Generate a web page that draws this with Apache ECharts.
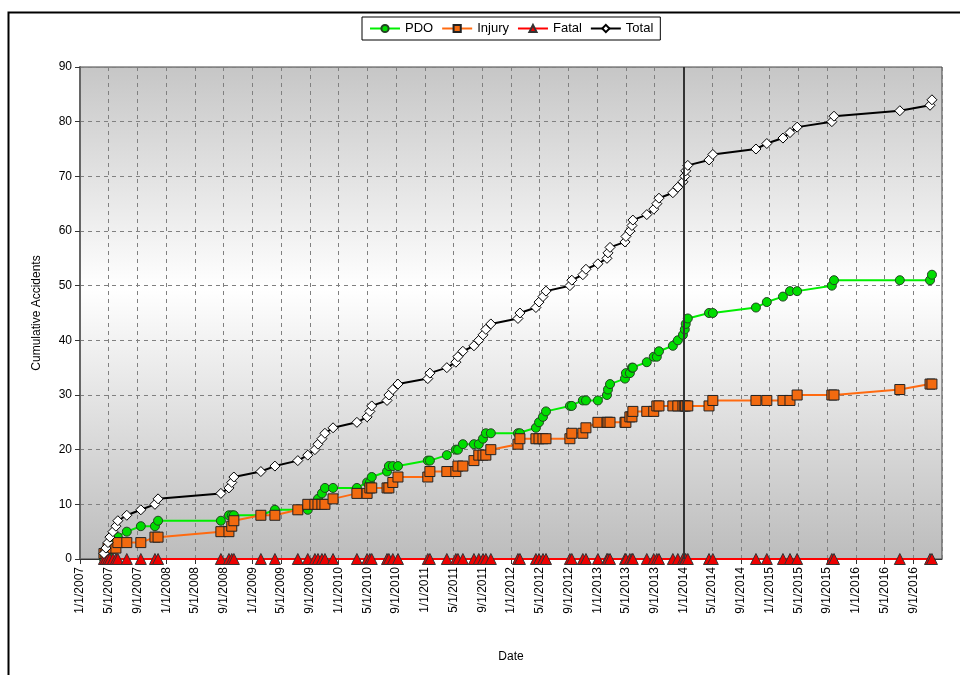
<!DOCTYPE html>
<html><head><meta charset="utf-8">
<script src="https://cdn.jsdelivr.net/npm/echarts@6/dist/echarts.min.js"></script>
<style>html,body{margin:0;padding:0;background:#fff}#c{width:960px;height:675px}</style>
</head><body><div id="c"></div>
<script>
const dates = ["2007-04-11","2007-04-19","2007-04-28","2007-05-06","2007-05-19","2007-06-01","2007-06-09","2007-07-17","2007-09-15","2007-11-14",
"2007-11-27","2008-08-20","2008-09-23","2008-10-05","2008-10-14","2009-02-06","2009-04-05","2009-07-11","2009-08-23","2009-09-22",
"2009-10-05","2009-10-22","2009-11-04","2009-12-08","2010-03-18","2010-04-30","2010-05-12","2010-05-20","2010-07-24","2010-08-01",
"2010-08-18","2010-09-09","2011-01-14","2011-01-23","2011-04-03","2011-05-11","2011-05-20","2011-06-10","2011-07-27","2011-08-17",
"2011-09-04","2011-09-16","2011-10-07","2012-01-31","2012-02-08","2012-04-15","2012-04-28","2012-05-15","2012-05-28","2012-09-07",
"2012-09-15","2012-11-01","2012-11-14","2013-01-04","2013-02-11","2013-02-15","2013-02-23","2013-04-27","2013-05-01","2013-05-18",
"2013-05-27","2013-05-31","2013-07-29","2013-08-28","2013-09-10","2013-09-19","2013-11-17","2013-12-08","2013-12-30","2014-01-07",
"2014-01-11","2014-01-20","2014-04-18","2014-05-04","2014-11-04","2014-12-20","2015-02-25","2015-03-27","2015-04-26","2015-09-21",
"2015-09-30","2016-07-05","2016-11-11","2016-11-19"];
const pdo = [0,1,1,2,3,4,4,5,6,6, 7,7,8,8,8,8,9,9,9,10, 11,12,13,13,13,14,14,15,16,17, 17,17,18,18,19,20,20,21,21,21,
22,23,23,23,23,24,25,26,27,28, 28,29,29,29,30,31,32,33,34,34, 35,35,36,37,37,38,39,40,41,42, 43,44,45,45,46,47,48,49,49,50, 51,51,51,52];
const injury = [1,1,2,2,2,2,3,3,3,4, 4,5,5,6,7,8,8,9,10,10, 10,10,10,11,12,12,13,13,13,13, 14,15,15,16,16,16,17,17,18,19,
19,19,20,21,22,22,22,22,22,22, 23,23,24,25,25,25,25,25,25,26, 26,27,27,27,28,28,28,28,28,28, 28,28,28,29,29,29,29,29,30,30, 30,31,32,32];
const fatal = [0,0,0,0,0,0,0,0,0,0, 0,0,0,0,0,0,0,0,0,0, 0,0,0,0,0,0,0,0,0,0, 0,0,0,0,0,0,0,0,0,0,
0,0,0,0,0,0,0,0,0,0, 0,0,0,0,0,0,0,0,0,0, 0,0,0,0,0,0,0,0,0,0, 0,0,0,0,0,0,0,0,0,0, 0,0,0,0];
const total = [1,2,3,4,5,6,7,8,9,10, 11,12,13,14,15,16,17,18,19,20, 21,22,23,24,25,26,27,28,29,30, 31,32,33,34,35,36,37,38,39,40,
41,42,43,44,45,46,47,48,49,50, 51,52,53,54,55,56,57,58,59,60, 61,62,63,64,65,66,67,68,69,70, 71,72,73,74,75,76,77,78,79,80, 81,82,83,84];
const tickLabels = ["1/1/2007","5/1/2007","9/1/2007","1/1/2008","5/1/2008","9/1/2008","1/1/2009","5/1/2009","9/1/2009","1/1/2010",
"5/1/2010","9/1/2010","1/1/2011","5/1/2011","9/1/2011","1/1/2012","5/1/2012","9/1/2012","1/1/2013","5/1/2013",
"9/1/2013","1/1/2014","5/1/2014","9/1/2014","1/1/2015","5/1/2015","9/1/2015","1/1/2016","5/1/2016","9/1/2016"];
const refLineDate = "2014-01-01";

// date -> months since 1/1/2007 (axis coordinate)
function monthIndex(s){
  const p = s.split('-').map(Number);
  const dim = new Date(p[0], p[1], 0).getDate();
  return (p[0]-2007)*12 + (p[1]-1) + (p[2]-1)/dim;
}
const xs = dates.map(monthIndex);
const pairs = arr => arr.map((v,i)=>[xs[i], v]);

const FONT = '"Liberation Sans", Arial, sans-serif';
const chart = echarts.init(document.getElementById('c'), null, {renderer:'canvas'});
chart.setOption({
  animation:false,
  backgroundColor:'#fff',
  textStyle:{fontFamily:FONT},
  graphic:[{type:'rect', left:6, top:10, shape:{x:0,y:0,width:1000,height:700}, style:{fill:'none', stroke:'#000', lineWidth:2}, silent:true, z:-1}],
  legend:{
    top:17, left:362, itemWidth:30, itemHeight:9, itemGap:8,
    padding:[5,7], borderColor:'#000', borderWidth:1, backgroundColor:'#fff',
    textStyle:{fontSize:13, color:'#000', fontFamily:FONT},
    data:['PDO','Injury','Fatal','Total']
  },
  grid:{left:80, right:18, top:67, bottom:116, show:true, borderColor:'#444', borderWidth:1,
    backgroundColor:new echarts.graphic.LinearGradient(0,0,0,1,[
      {offset:0,color:'#c6c6c6'},{offset:0.45,color:'#ffffff'},{offset:1,color:'#bcbcbc'}])},
  xAxis:{
    type:'value', min:0, max:120, interval:4,
    name:'Date', nameLocation:'middle', nameGap:92,
    nameTextStyle:{fontSize:12, color:'#000', fontFamily:FONT},
    axisLine:{show:true, onZero:false, lineStyle:{color:'#333', width:1}},
    axisTick:{show:true, length:5, lineStyle:{color:'#333'}},
    axisLabel:{rotate:90, fontSize:12, color:'#000', margin:8, showMaxLabel:false, fontFamily:FONT,
      formatter:v=>{const k=Math.round(v/4); return tickLabels[k]||'';}},
    splitLine:{show:true, lineStyle:{color:'#808080', type:[4,4], width:1}}
  },
  yAxis:{
    type:'value', min:0, max:90, interval:10,
    name:'Cumulative Accidents', nameLocation:'middle', nameGap:37,
    nameTextStyle:{fontSize:12, color:'#000', fontFamily:FONT},
    axisLine:{show:true, lineStyle:{color:'#666', width:2}},
    axisTick:{show:true, length:5, lineStyle:{color:'#333'}},
    axisLabel:{fontSize:12, color:'#000', margin:8, fontFamily:FONT},
    splitLine:{show:true, lineStyle:{color:'#808080', type:[4,4], width:1}}
  },
  series:[
    {name:'PDO', type:'line', data:pairs(pdo), symbol:'circle', symbolSize:9,
      lineStyle:{color:'#00ee00', width:2}, itemStyle:{color:'#00dd00', borderColor:'#224422', borderWidth:1}},
    {name:'Injury', type:'line', data:pairs(injury), symbol:'rect', symbolSize:10,
      lineStyle:{color:'#ff6a10', width:2}, itemStyle:{color:'#f26a10', borderColor:'#222', borderWidth:1}},
    {name:'Fatal', type:'line', data:pairs(fatal), symbol:'triangle', symbolSize:11,
      lineStyle:{color:'#ff0000', width:2}, itemStyle:{color:'#ee0000', borderColor:'#333', borderWidth:1}},
    {name:'Total', type:'line', data:pairs(total), symbol:'diamond', symbolSize:10,
      lineStyle:{color:'#000', width:2}, itemStyle:{color:'#fff', borderColor:'#000', borderWidth:1},
      markLine:{silent:true, symbol:'none', label:{show:false}, lineStyle:{color:'#333', width:2, type:'solid'},
        data:[{xAxis:monthIndex(refLineDate)}]}}
  ]
});
</script></body></html>
